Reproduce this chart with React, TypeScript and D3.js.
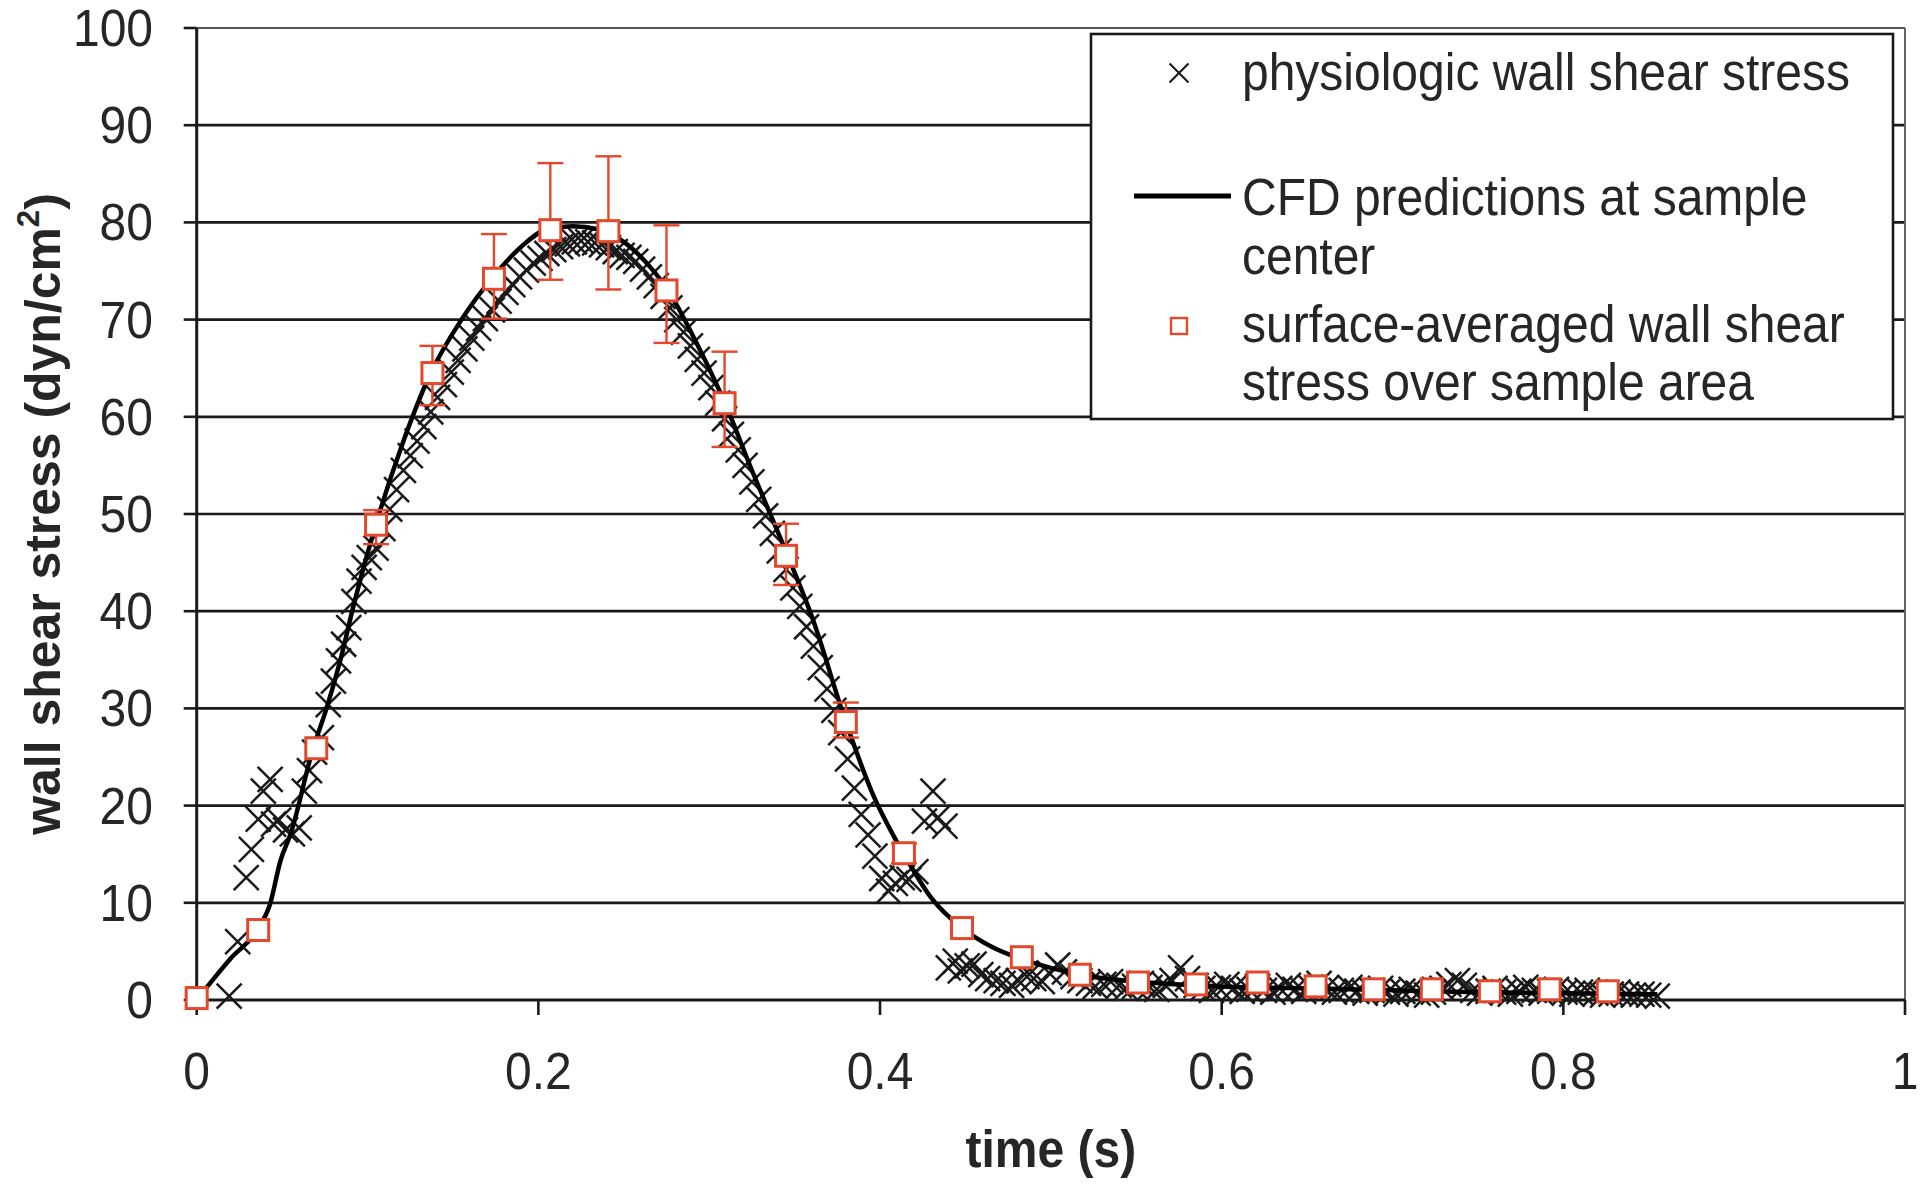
import React from "react";
import * as d3 from "d3";

// ---- data ----
const xTicks = [0, 0.2, 0.4, 0.6, 0.8, 1];
const xTickLabels = ["0", "0.2", "0.4", "0.6", "0.8", "1"];
const yTicks = [0, 10, 20, 30, 40, 50, 60, 70, 80, 90, 100];

// physiologic wall shear stress (x markers): [time, value]
const physioPoints: [number, number][] = [
  [0.019, 0.4], [0.024, 6.0], [0.029, 12.6], [0.032, 15.5], [0.036, 18.6], [0.039, 21.5], [0.043, 22.7],
  [0.045, 18.1], [0.048, 18.5], [0.052, 17.5], [0.056, 17.1], [0.060, 17.7], [0.063, 21.5], [0.066, 23.6],
  [0.069, 25.5], [0.073, 27.0], [0.077, 30.4], [0.080, 32.8], [0.083, 34.9], [0.086, 36.6], [0.089, 38.3],
  [0.092, 41.0], [0.095, 43.1], [0.098, 44.5], [0.101, 45.5],
  [0.105, 46.5], [0.109, 48.5], [0.113, 50.5], [0.117, 52.5], [0.121, 54.5], [0.125, 56.0], [0.129, 57.5],
  [0.133, 59.0], [0.137, 60.5], [0.141, 62.0], [0.145, 63.3], [0.149, 64.6], [0.153, 65.8], [0.157, 67.0],
  [0.161, 68.1], [0.165, 69.1], [0.169, 70.1], [0.173, 71.0], [0.177, 71.9], [0.181, 72.8], [0.185, 73.6],
  [0.189, 74.4], [0.193, 75.1], [0.197, 75.8], [0.201, 76.3], [0.205, 76.8], [0.209, 77.2], [0.213, 77.5],
  [0.217, 77.8], [0.221, 78.0], [0.225, 78.1], [0.229, 78.0], [0.233, 77.9], [0.237, 77.7], [0.241, 77.4],
  [0.245, 77.0], [0.249, 76.6], [0.253, 76.4], [0.257, 76.0], [0.261, 75.2], [0.265, 74.4], [0.269, 73.5],
  [0.273, 72.4], [0.277, 71.2], [0.281, 70.0], [0.285, 68.7], [0.289, 67.3], [0.293, 65.9], [0.297, 64.5],
  [0.301, 63.0], [0.305, 61.4], [0.309, 59.8], [0.313, 58.2], [0.317, 56.6], [0.321, 55.0], [0.325, 53.3],
  [0.329, 51.5], [0.333, 49.8], [0.337, 48.0], [0.341, 46.2], [0.345, 44.3], [0.349, 42.4], [0.353, 40.5],
  [0.357, 38.4], [0.361, 36.4], [0.365, 34.2], [0.369, 32.0], [0.373, 29.8], [0.377, 27.5], [0.381, 24.8],
  [0.385, 21.8], [0.389, 19.1], [0.393, 17.0], [0.397, 14.8], [0.401, 12.5], [0.405, 11.2], [0.409, 12.0],
  [0.413, 12.6], [0.417, 12.4], [0.421, 13.2], [0.426, 18.4], [0.431, 21.5], [0.434, 18.8], [0.438, 17.9],
  [0.440, 3.3], [0.444, 4.0], [0.447, 3.0], [0.451, 3.5], [0.455, 3.7],
  [0.459, 2.6], [0.463, 2.2], [0.468, 2.0], [0.472, 1.7], [0.477, 1.5], [0.481, 2.0], [0.486, 2.4],
  [0.490, 2.2], [0.495, 1.9], [0.499, 2.8], [0.504, 3.6], [0.508, 2.9], [0.513, 2.4], [0.517, 2.0],
  [0.522, 1.7], [0.526, 1.4], [0.531, 1.6], [0.535, 1.9], [0.540, 1.5], [0.544, 1.2], [0.549, 1.4],
  [0.553, 1.7], [0.558, 1.3], [0.562, 1.1], [0.567, 1.5], [0.571, 2.0], [0.576, 3.3], [0.580, 2.2],
  [0.585, 1.5], [0.589, 1.2], [0.594, 1.0], [0.598, 1.3], [0.603, 1.6], [0.607, 1.2], [0.612, 0.9],
  [0.616, 1.1], [0.621, 1.4], [0.625, 1.0], [0.630, 0.8], [0.634, 1.2], [0.639, 1.5], [0.643, 1.1],
  [0.648, 0.9], [0.652, 1.3], [0.657, 1.7], [0.661, 1.2], [0.666, 0.8], [0.670, 1.0], [0.675, 1.3],
  [0.679, 0.9], [0.684, 0.7], [0.688, 1.0], [0.693, 1.2], [0.697, 0.8], [0.702, 0.6], [0.706, 0.9],
  [0.711, 1.1], [0.715, 0.7], [0.720, 0.5], [0.724, 0.8], [0.729, 1.2], [0.733, 1.6], [0.738, 2.0],
  [0.742, 1.5], [0.747, 1.0], [0.751, 0.7], [0.756, 0.9], [0.760, 1.2], [0.765, 0.8], [0.769, 0.6],
  [0.774, 0.9], [0.778, 1.3], [0.783, 1.0], [0.787, 0.7], [0.792, 0.9], [0.796, 1.1], [0.801, 0.8],
  [0.805, 0.6], [0.810, 0.8], [0.814, 1.0], [0.819, 0.7], [0.823, 0.5], [0.828, 0.6], [0.832, 0.8],
  [0.837, 0.6], [0.841, 0.5], [0.846, 0.6], [0.850, 0.5], [0.855, 0.4],
];

// CFD predictions at sample center (line)
const cfdTime = [0, 0.01, 0.02, 0.035, 0.043, 0.049, 0.055, 0.068, 0.076, 0.084, 0.092, 0.105, 0.12, 0.137,
  0.155, 0.174, 0.19, 0.205, 0.22, 0.235, 0.25, 0.265, 0.276, 0.29, 0.309, 0.325, 0.346, 0.36, 0.38, 0.395,
  0.414, 0.43, 0.448, 0.465, 0.483, 0.5, 0.517, 0.55, 0.6, 0.65, 0.7, 0.75, 0.8, 0.855];
const cfdValue = [0, 2.2, 4.3, 7.1, 9.9, 14.3, 17.1, 25.8, 30.0, 34.9, 40.7, 49, 57, 64.5,
  70, 74.5, 77.5, 79.3, 79.6, 79.3, 78, 75.5, 73, 68.5, 61.5, 54.5, 45.7, 39.5, 28.6, 21.5,
  15, 10.5, 7.4, 5.5, 4.2, 3.3, 2.6, 1.9, 1.4, 1.2, 1.0, 0.8, 0.7, 0.6];

// surface-averaged wall shear stress over sample area (squares + error bars)
const sqTime = [0, 0.036, 0.070, 0.105, 0.138, 0.174, 0.207, 0.241, 0.275, 0.309, 0.345, 0.380, 0.414,
  0.448, 0.483, 0.517, 0.551, 0.585, 0.621, 0.655, 0.689, 0.723, 0.757, 0.792, 0.826];
const sqValue = [0.2, 7.2, 25.9, 48.9, 64.5, 74.2, 79.2, 79.1, 73.0, 61.4, 45.7, 28.6, 15.1,
  7.4, 4.4, 2.6, 1.8, 1.6, 1.8, 1.4, 1.1, 1.1, 0.9, 1.1, 0.9];
const sqErrUp = [0, 0.4, 0.6, 1.5, 2.8, 4.6, 6.9, 7.7, 6.7, 5.3, 3.3, 2.0, 1.0,
  0.5, 0.3, 0.2, 0.2, 0.2, 0.2, 0.2, 0.2, 0.2, 0.2, 0.2, 0.2];
const sqErrDown = [0, 0.4, 0.6, 2.0, 3.3, 4.1, 5.1, 6.0, 5.4, 4.5, 3.0, 1.6, 1.0,
  0.5, 0.3, 0.2, 0.2, 0.2, 0.2, 0.2, 0.2, 0.2, 0.2, 0.2, 0.2];

const legendLabels = [
  ["physiologic wall shear stress"],
  ["CFD predictions at sample", "center"],
  ["surface-averaged wall shear", "stress over sample area"],
];

// ---- layout ----
const W = 1920;
const H = 1192;
const X0 = 196.7;
const X1 = 1905;
const Y0 = 1000;
const Y100 = 28;
const FONT = "'Liberation Sans', Arial, Helvetica, sans-serif";
const RED = "#e5472b";
const INK = "#1a1a1a";
const TXT = "#262626";
const SY = 1.07; // slight vertical stretch of the source lettering

function XMark({ cx, cy, r = 12.5, sw = 2.5 }: { cx: number; cy: number; r?: number; sw?: number }) {
  return (
    <g stroke={INK} strokeWidth={sw} strokeLinecap="butt">
      <line x1={cx - r} y1={cy - r} x2={cx + r} y2={cy + r} />
      <line x1={cx - r} y1={cy + r} x2={cx + r} y2={cy - r} />
    </g>
  );
}

function T({ x, y, anchor = "start", size = 48, bold = false, children }: any) {
  return (
    <text
      transform={`translate(${x},${y}) scale(1,${SY})`}
      textAnchor={anchor}
      fontSize={size}
      fontWeight={bold ? "bold" : "normal"}
      fill={TXT}
    >
      {children}
    </text>
  );
}

export default function App() {
  const x = d3.scaleLinear().domain([0, 1]).range([X0, X1]);
  const y = d3.scaleLinear().domain([0, 100]).range([Y0, Y100]);

  const cfdData = cfdTime.map((t, i) => [t, cfdValue[i]] as [number, number]);
  const linePath = d3
    .line<[number, number]>()
    .x((d) => x(d[0]))
    .y((d) => y(d[1]))
    .curve(d3.curveMonotoneX)(cfdData) as string;

  const sq = 21;
  const cap = 13;

  // legend geometry
  const LX = 1091, LY = 34, LW = 802, LH = 385;
  const textX = 1242;

  return (
    <svg
      width={W}
      height={H}
      viewBox={`0 0 ${W} ${H}`}
      style={{ position: "absolute", left: 0, top: 0, background: "#fff", display: "block" }}
      fontFamily={FONT}
    >
      <rect x={0} y={0} width={W} height={H} fill="#fff" />

      {/* gridlines */}
      {yTicks.filter((v) => v > 0).map((v) => (
        <line key={"g" + v} x1={X0} x2={X1} y1={y(v)} y2={y(v)} stroke={v === 100 ? "#555" : INK} strokeWidth={v === 100 ? 2.2 : 2.7} />
      ))}
      {/* right border */}
      <line x1={X1} x2={X1} y1={Y100} y2={Y0} stroke="#666" strokeWidth={2} />

      {/* axes */}
      <line x1={X0} x2={X1} y1={Y0} y2={Y0} stroke={INK} strokeWidth={3} />
      <line x1={X0} x2={X0} y1={Y100} y2={Y0} stroke={INK} strokeWidth={3} />
      {yTicks.map((v) => (
        <line key={"yt" + v} x1={X0 - 13} x2={X0} y1={y(v)} y2={y(v)} stroke={INK} strokeWidth={2.6} />
      ))}
      {xTicks.map((v) => (
        <line key={"xt" + v} x1={x(v)} x2={x(v)} y1={Y0} y2={Y0 + 15} stroke={INK} strokeWidth={2.6} />
      ))}

      {/* tick labels */}
      {yTicks.map((v) => (
        <T key={"yl" + v} x={153} y={y(v) + 18} anchor="end">{v}</T>
      ))}
      {xTicks.map((v, i) => (
        <T key={"xl" + v} x={x(v)} y={1089} anchor="middle">{xTickLabels[i]}</T>
      ))}

      {/* axis titles */}
      <T x={(X0 + X1) / 2} y={1167} anchor="middle" bold>time (s)</T>
      <text
        transform={`translate(60, ${(Y0 + Y100) / 2}) rotate(-90) scale(1.04,1.03)`}
        textAnchor="middle"
        fontSize={48}
        fontWeight="bold"
        fill={TXT}
      >
        wall shear stress (dyn/cm
        <tspan fontSize={30} dy={-20}>2</tspan>
        <tspan dy={20}>)</tspan>
      </text>

      {/* physiologic x markers */}
      {physioPoints.map((p, i) => (
        <XMark key={"p" + i} cx={x(p[0])} cy={y(p[1])} />
      ))}

      {/* CFD line */}
      <path d={linePath} fill="none" stroke="#000" strokeWidth={4.5} strokeLinejoin="round" />

      {/* error bars */}
      {sqTime.map((t, i) => {
        const cx = x(t);
        const top = y(sqValue[i] + sqErrUp[i]);
        const bot = y(sqValue[i] - sqErrDown[i]);
        if (sqErrUp[i] < 1 && sqErrDown[i] < 1) return null;
        return (
          <g key={"e" + i} stroke={RED} strokeWidth={2.4}>
            <line x1={cx} x2={cx} y1={top} y2={bot} />
            <line x1={cx - cap} x2={cx + cap} y1={top} y2={top} />
            <line x1={cx - cap} x2={cx + cap} y1={bot} y2={bot} />
          </g>
        );
      })}

      {/* squares */}
      {sqTime.map((t, i) => (
        <rect
          key={"s" + i}
          x={x(t) - sq / 2}
          y={y(sqValue[i]) - sq / 2}
          width={sq}
          height={sq}
          fill="#fff"
          stroke={RED}
          strokeWidth={3}
        />
      ))}

      {/* legend */}
      <rect x={LX} y={LY} width={LW} height={LH} fill="#fff" stroke={INK} strokeWidth={2.6} />
      <XMark cx={1179} cy={73} r={9.5} sw={2.1} />
      <T x={textX} y={90}>{legendLabels[0][0]}</T>
      <line x1={1134} x2={1231} y1={196} y2={196} stroke="#000" strokeWidth={5} />
      <T x={textX} y={215}>{legendLabels[1][0]}</T>
      <T x={textX} y={274}>{legendLabels[1][1]}</T>
      <rect x={1179 - 8} y={326 - 8} width={16} height={16} fill="#fff" stroke={RED} strokeWidth={2.4} />
      <T x={textX} y={342}>{legendLabels[2][0]}</T>
      <T x={textX} y={400}>{legendLabels[2][1]}</T>
    </svg>
  );
}
